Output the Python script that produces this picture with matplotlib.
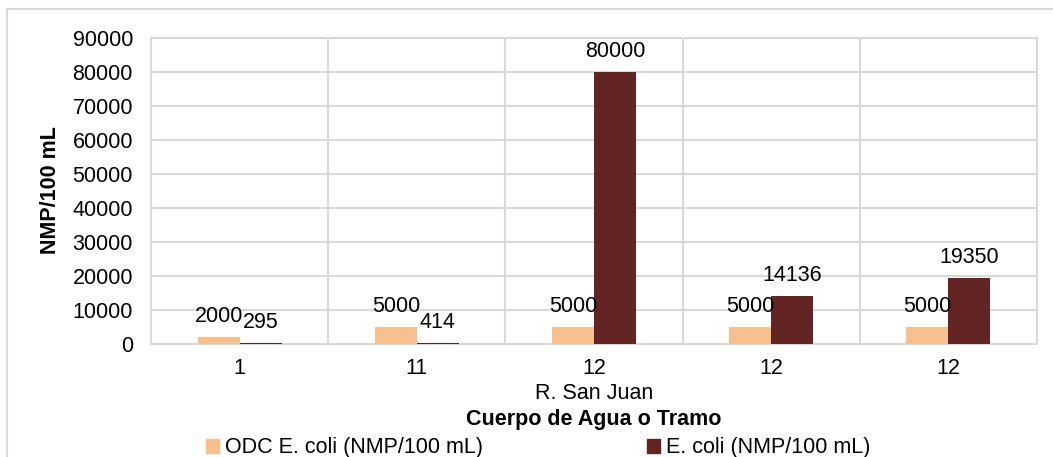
import numpy as np
import matplotlib
matplotlib.use('Agg')
import matplotlib.pyplot as plt
from matplotlib.patches import Patch
from matplotlib.lines import Line2D

# data
tramos = ['1', '11', '12', '12', '12']
grupo = 'R. San Juan'
odc = [2000, 5000, 5000, 5000, 5000]
ecoli = [295, 414, 80000, 14136, 19350]

c_odc = '#F9C08F'
c_eco = '#632523'
grid_c = '#D9D9D9'
fs = 15.5

plt.rcParams['font.family'] = ['Liberation Sans', 'DejaVu Sans']

fig = plt.figure(figsize=(10.53, 4.57), dpi=100)
ax = fig.add_axes([151/1053, 1 - 344/457, (1037 - 151)/1053, (344 - 38)/457])

x = np.arange(len(tramos))
w = 0.237
b1 = ax.bar(x - w/2, odc, w, color=c_odc, label='ODC E. coli (NMP/100 mL)', zorder=3)
b2 = ax.bar(x + w/2, ecoli, w, color=c_eco, label='E. coli (NMP/100 mL)', zorder=3)
ax.bar_label(b1, labels=[str(v) for v in odc], padding=7, fontsize=fs)
ax.bar_label(b2, labels=[str(v) for v in ecoli], padding=7, fontsize=fs)

ax.set_xlim(-0.5, len(tramos) - 0.5)
ax.set_ylim(0, 90000)
ax.set_yticks(np.arange(0, 90001, 10000))
ax.set_yticklabels([str(v) for v in range(0, 90001, 10000)], fontsize=fs)
ax.set_xticks(x)
ax.set_xticklabels(tramos, fontsize=fs)
ax.tick_params(length=0)
ax.tick_params(axis='y', pad=13)
ax.tick_params(axis='x', pad=10)

# horizontal gridlines + vertical separators between categories
ax.yaxis.grid(True, color=grid_c, linewidth=1.5, zorder=0)
for xb in np.arange(0.5, len(tramos) - 0.5, 1):
    ax.axvline(xb, color=grid_c, linewidth=1.5, zorder=0)
for s in ax.spines.values():
    s.set_color(grid_c)
    s.set_linewidth(1.5)

fig.text((151 + 1037) / 2 / 1053, 1 - 399/457, grupo, ha='center', va='baseline', fontsize=fs)
fig.text((151 + 1037) / 2 / 1053, 1 - 425/457, 'Cuerpo de Agua o Tramo', ha='center', va='baseline',
         fontsize=fs, fontweight='bold')
fig.text(50/1053, 1 - 190/457, 'NMP/100 mL', ha='center', va='center', rotation=90,
         fontsize=fs, fontweight='bold')

handles = [Patch(color=c_odc), Patch(color=c_eco)]
fig.legend(handles, ['ODC E. coli (NMP/100 mL)', 'E. coli (NMP/100 mL)'], ncol=2,
           loc='center', bbox_to_anchor=(538/1053, 1 - 448/457), frameon=False, fontsize=fs,
           handlelength=0.6, handleheight=0.6, handletextpad=0.3, columnspacing=7.6,
           borderpad=0, borderaxespad=0)

# outer chart border (top + left visible)
fig.add_artist(Line2D([7/1053, 7/1053], [0, 1 - 9/457], transform=fig.transFigure, color=grid_c, linewidth=1.5))
fig.add_artist(Line2D([7/1053, 1], [1 - 9/457, 1 - 9/457], transform=fig.transFigure, color=grid_c, linewidth=1.5))

fig.savefig('out.png', dpi=100)
